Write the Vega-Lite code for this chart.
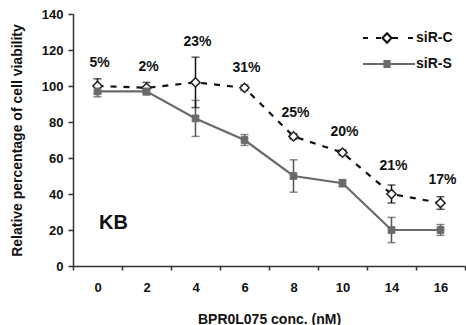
{
  "$schema": "https://vega.github.io/schema/vega-lite/v6.json",
  "width": 392,
  "height": 252,
  "autosize": {"type": "none"},
  "padding": {"left": 73, "top": 14, "right": 1, "bottom": 59},
  "background": "white",
  "config": {
    "font": "Liberation Sans",
    "view": {"stroke": null},
    "axis": {
      "grid": false,
      "domainColor": "#333333",
      "domainWidth": 1.5,
      "tickColor": "#333333",
      "tickWidth": 1.5,
      "labelFont": "Liberation Sans",
      "labelFontWeight": "bold",
      "labelFontSize": 13,
      "labelColor": "#111111",
      "titleFont": "Liberation Sans",
      "titleFontWeight": "bold",
      "titleFontSize": 14,
      "titleColor": "#111111"
    },
    "axisY": {
      "values": [0, 20, 40, 60, 80, 100, 120, 140],
      "tickCount": 8,
      "labelOverlap": false,
      "tickSize": 5,
      "labelPadding": 5,
      "titlePadding": 17
    }
  },
  "data": {
    "values": [
      {"conc": "0", "series": "siR-C", "mean": 100, "err": 4, "pct": "5%", "labelY": 113},
      {"conc": "2", "series": "siR-C", "mean": 99, "err": 3, "pct": "2%", "labelY": 110.5},
      {"conc": "4", "series": "siR-C", "mean": 102, "err": 14, "pct": "23%", "labelY": 124.5},
      {"conc": "6", "series": "siR-C", "mean": 99, "err": 1.5, "pct": "31%", "labelY": 110},
      {"conc": "8", "series": "siR-C", "mean": 72, "err": 1.5, "pct": "25%", "labelY": 85},
      {"conc": "10", "series": "siR-C", "mean": 63, "err": 1.5, "pct": "20%", "labelY": 74.5},
      {"conc": "14", "series": "siR-C", "mean": 40, "err": 5, "pct": "21%", "labelY": 55.5},
      {"conc": "16", "series": "siR-C", "mean": 35, "err": 3.5, "pct": "17%", "labelY": 48},
      {"conc": "0", "series": "siR-S", "mean": 97, "err": 3},
      {"conc": "2", "series": "siR-S", "mean": 97, "err": 2},
      {"conc": "4", "series": "siR-S", "mean": 82, "err": 10},
      {"conc": "6", "series": "siR-S", "mean": 70, "err": 3},
      {"conc": "8", "series": "siR-S", "mean": 50, "err": 9},
      {"conc": "10", "series": "siR-S", "mean": 46, "err": 2},
      {"conc": "14", "series": "siR-S", "mean": 20, "err": 7},
      {"conc": "16", "series": "siR-S", "mean": 20, "err": 3}
    ]
  },
  "encoding": {
    "x": {
      "field": "conc",
      "type": "nominal",
      "scale": {"type": "band", "domain": ["0", "2", "4", "6", "8", "10", "14", "16"], "paddingInner": 0, "paddingOuter": 0},
      "axis": {
        "title": "BPR0L075 conc. (nM)",
        "labelAngle": 0,
        "tickBand": "extent",
        "tickSize": 4,
        "labelPadding": 11,
        "titlePadding": 18
      }
    },
    "y": {
      "field": "mean",
      "type": "quantitative",
      "title": "Relative percentage of cell viability",
      "scale": {"domain": [0, 140], "nice": false, "zero": true},
      "axis": {"values": [0, 20, 40, 60, 80, 100, 120, 140], "title": "Relative percentage of cell viability"}
    }
  },
  "layer": [
    {
      "transform": [{"filter": {"field": "series", "equal": "siR-S"}}],
      "mark": {"type": "errorbar", "color": "#555555", "ticks": {"size": 8, "thickness": 1.5}, "thickness": 1.5},
      "encoding": {
        "yError": {"field": "err"}
      }
    },
    {
      "transform": [{"filter": {"field": "series", "equal": "siR-C"}}],
      "mark": {"type": "errorbar", "color": "#111111", "ticks": {"size": 8, "thickness": 1.5}, "thickness": 1.5},
      "encoding": {
        "yError": {"field": "err"}
      }
    },
    {
      "transform": [{"filter": {"field": "series", "equal": "siR-C"}}],
      "mark": {"type": "line", "strokeWidth": 2.2, "color": "#111111", "strokeDash": [6, 7]},
      "encoding": {}
    },
    {
      "transform": [{"filter": {"field": "series", "equal": "siR-S"}}],
      "mark": {"type": "line", "strokeWidth": 2.2, "color": "#6a6a6a"},
      "encoding": {}
    },
    {
      "transform": [{"filter": {"field": "series", "equal": "siR-C"}}],
      "mark": {"type": "point", "shape": "diamond", "filled": true, "fill": "#ffffff", "stroke": "#222222", "strokeWidth": 1.5, "size": 85, "opacity": 1},
      "encoding": {}
    },
    {
      "transform": [{"filter": {"field": "series", "equal": "siR-S"}}],
      "mark": {"type": "point", "shape": "square", "filled": true, "fill": "#6a6a6a", "stroke": "#6a6a6a", "strokeWidth": 1, "size": 45, "opacity": 1},
      "encoding": {}
    },
    {
      "mark": {"type": "point", "opacity": 0, "filled": true},
      "encoding": {
        "shape": {
          "field": "series",
          "type": "nominal",
          "scale": {"domain": ["siR-C", "siR-S"], "range": ["M-2.77,0H-2.19M-1.27,0H-0.69M0,-0.55L0.52,0L0,0.55L-0.52,0ZM0.58,0H1.27M2.42,0H3.0", "M-2.77,0H3.23M-0.3,-0.35H0.3V0.35H-0.3Z"]},
          "legend": {
            "title": null,
            "orient": "none",
            "legendX": 304,
            "legendY": 14,
            "padding": 0,
            "rowPadding": 7,
            "labelFont": "Liberation Sans",
            "labelFontWeight": "bold",
            "labelFontSize": 14,
            "labelColor": "#111111",
            "labelOffset": 19,
            "symbolSize": 300,
            "symbolStrokeWidth": 2,
            "symbolOpacity": 1
          }
        },
        "fill": {
          "field": "series",
          "type": "nominal",
          "scale": {"domain": ["siR-C", "siR-S"], "range": ["#ffffff", "#6a6a6a"]},
          "legend": {
            "title": null,
            "orient": "none",
            "legendX": 304,
            "legendY": 14,
            "padding": 0,
            "rowPadding": 7,
            "labelFont": "Liberation Sans",
            "labelFontWeight": "bold",
            "labelFontSize": 14,
            "labelColor": "#111111",
            "labelOffset": 19,
            "symbolSize": 300,
            "symbolStrokeWidth": 2,
            "symbolOpacity": 1
          }
        },
        "stroke": {
          "field": "series",
          "type": "nominal",
          "scale": {"domain": ["siR-C", "siR-S"], "range": ["#111111", "#6a6a6a"]},
          "legend": {
            "title": null,
            "orient": "none",
            "legendX": 304,
            "legendY": 14,
            "padding": 0,
            "rowPadding": 7,
            "labelFont": "Liberation Sans",
            "labelFontWeight": "bold",
            "labelFontSize": 14,
            "labelColor": "#111111",
            "labelOffset": 19,
            "symbolSize": 300,
            "symbolStrokeWidth": 2,
            "symbolOpacity": 1
          }
        }
      }
    },
    {
      "transform": [{"filter": {"field": "series", "equal": "siR-C"}}],
      "mark": {"type": "text", "font": "Liberation Sans", "fontWeight": "bold", "fontSize": 14, "color": "#111111", "baseline": "middle", "dx": 2},
      "encoding": {
        "y": {"field": "labelY", "type": "quantitative", "title": "Relative percentage of cell viability", "axis": {"values": [0, 20, 40, 60, 80, 100, 120, 140], "title": "Relative percentage of cell viability"}},
        "text": {"field": "pct", "type": "nominal"}
      }
    },
    {
      "data": {"values": [{"conc": "0", "yv": 24, "t": "KB"}]},
      "mark": {"type": "text", "font": "Liberation Sans", "fontWeight": "bold", "fontSize": 20, "color": "#111111", "baseline": "middle", "dx": 16},
      "encoding": {
        "y": {"field": "yv", "type": "quantitative", "title": "Relative percentage of cell viability", "axis": {"values": [0, 20, 40, 60, 80, 100, 120, 140], "title": "Relative percentage of cell viability"}},
        "text": {"field": "t", "type": "nominal"}
      }
    }
  ]
}
